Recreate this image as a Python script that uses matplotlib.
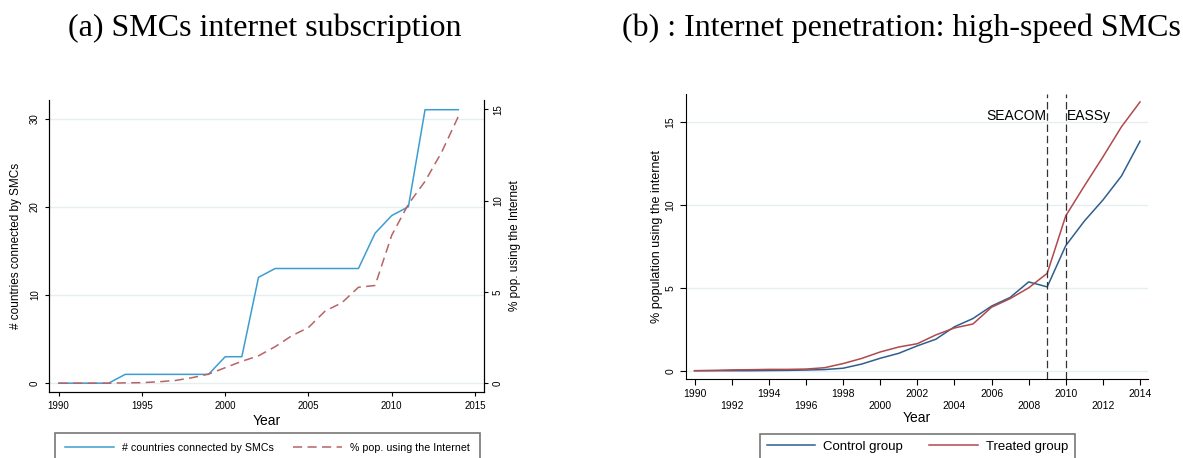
import matplotlib.pyplot as plt
import numpy as np

plt.rcParams['font.family'] = ['Liberation Sans', 'DejaVu Sans']

years = np.arange(1990, 2015)

# panel (a)
smc_countries = [0, 0, 0, 0, 1, 1, 1, 1, 1, 1, 3, 3, 12, 13, 13, 13, 13, 13, 13,
                 17, 19, 20, 31, 31, 31]
pop_internet = [0, 0, 0, 0, 0.02, 0.03, 0.08, 0.15, 0.3, 0.5, 0.85, 1.2, 1.5, 2.0,
                2.6, 3.05, 3.95, 4.4, 5.25, 5.35, 8.1, 9.8, 11.05, 12.65, 14.6]

# panel (b)
control_group = [0, 0, 0, 0, 0.01, 0.02, 0.04, 0.07, 0.15, 0.4, 0.75, 1.05, 1.5, 1.9,
                 2.65, 3.15, 3.9, 4.42, 5.36, 5.06, 7.55, 9.03, 10.3, 11.75, 13.85]
treated_group = [0, 0.02, 0.05, 0.06, 0.08, 0.08, 0.1, 0.18, 0.43, 0.74, 1.13, 1.43,
                 1.63, 2.16, 2.58, 2.82, 3.83, 4.35, 5.0, 5.88, 9.35, 11.15, 12.9,
                 14.72, 16.22]
cable_years = [2009, 2010]
cable_names = ['SEACOM', 'EASSy']

W, H = 1183, 458
fig = plt.figure(figsize=(W / 100, H / 100), dpi=100)


def px_axes(x0, y0, x1, y1):
    return fig.add_axes([x0 / W, 1 - y1 / H, (x1 - x0) / W, (y1 - y0) / H])


grid_c = '#e6efef'

# ---- (a)
ax = px_axes(49, 100, 484, 392)
ax.plot(years, smc_countries, color='#3d9dd0', lw=1.1,
        label='# countries connected by SMCs')
ax.set_xlim(1989.42, 2015.54)
ax.set_ylim(-1.0, 32.1)
ax.set_xticks(np.arange(1990, 2016, 5))
ax.set_yticks([0, 10, 20, 30])
ax.grid(axis='y', color=grid_c, lw=1)
ax.set_axisbelow(True)
ax.spines['top'].set_visible(False)
ax.tick_params(labelsize=7, length=3, width=0.8)
plt.setp(ax.get_yticklabels(), rotation=90, va='center')
ax.set_xlabel('Year', fontsize=10, labelpad=2)
ax.set_ylabel('# countries connected by SMCs', fontsize=8.5, labelpad=6)

ax2 = ax.twinx()
ax2.plot(years, pop_internet, color='#b86366', lw=1.1, ls=(0, (6, 3.5)),
         label='% pop. using the Internet')
ax2.set_ylim(-0.48, 15.5)
ax2.set_yticks([0, 5, 10, 15])
ax2.spines['top'].set_visible(False)
ax2.tick_params(labelsize=7, length=3, width=0.8)
plt.setp(ax2.get_yticklabels(), rotation=90, va='center')
ax2.set_ylabel('% pop. using the Internet', fontsize=8.5, labelpad=4)

h1, l1 = ax.get_legend_handles_labels()
h2, l2 = ax2.get_legend_handles_labels()
leg = fig.legend(h1 + h2, l1 + l2, ncol=2, loc='upper left',
                 bbox_to_anchor=(55 / W, 0, 425 / W, 1 - 433 / H),
                 mode='expand', fontsize=7.7, handlelength=4.6, frameon=True,
                 fancybox=False, edgecolor='#555555', borderpad=0.9,
                 borderaxespad=0)
leg.get_frame().set_linewidth(1.2)

# ---- (b)
bx = px_axes(686, 94, 1148, 379)
bx.plot(years, control_group, color='#2f5f8f', lw=1.1, label='Control group')
bx.plot(years, treated_group, color='#b0494d', lw=1.1, label='Treated group')
for yr in cable_years:
    bx.axvline(yr, color='#333333', lw=0.9, ls=(0, (6, 3)))
bx.text(cable_years[0] - 0.05, 15.4, cable_names[0], ha='right', va='center',
        fontsize=10)
bx.text(cable_years[1] + 0.05, 15.4, cable_names[1], ha='left', va='center',
        fontsize=10)
bx.set_xlim(1989.54, 2014.43)
bx.set_ylim(-0.5, 16.7)
xt = np.arange(1990, 2015, 2)
bx.set_xticks(xt)
bx.set_xticklabels([str(y) if i % 2 == 0 else '\n' + str(y) for i, y in enumerate(xt)])
bx.set_yticks([0, 5, 10, 15])
bx.grid(axis='y', color=grid_c, lw=1)
bx.set_axisbelow(True)
bx.spines['top'].set_visible(False)
bx.spines['right'].set_visible(False)
bx.tick_params(labelsize=7.5, length=4, width=0.8)
plt.setp(bx.get_yticklabels(), rotation=90, va='center')
bx.set_xlabel('Year', fontsize=10, labelpad=0)
bx.set_ylabel('% population using the internet', fontsize=9, labelpad=2)
leg2 = fig.legend(*bx.get_legend_handles_labels(), ncol=2, loc='upper left',
                  bbox_to_anchor=(760 / W, 0, 315 / W, 1 - 434 / H),
                  mode='expand', fontsize=9.5, handlelength=3.7,
                  handletextpad=0.6, frameon=True, fancybox=False,
                  edgecolor='#555555', borderpad=0.5, borderaxespad=0)
leg2.get_frame().set_linewidth(1.2)

# titles
fig.text(265 / W, 1 - 28 / H, '(a) SMCs internet subscription', ha='center',
         va='center', fontsize=23, family='Liberation Serif')
fig.text(901 / W, 1 - 28 / H, '(b) : Internet penetration: high-speed SMCs',
         ha='center', va='center', fontsize=23, family='Liberation Serif')

fig.savefig('out.png', dpi=100)
